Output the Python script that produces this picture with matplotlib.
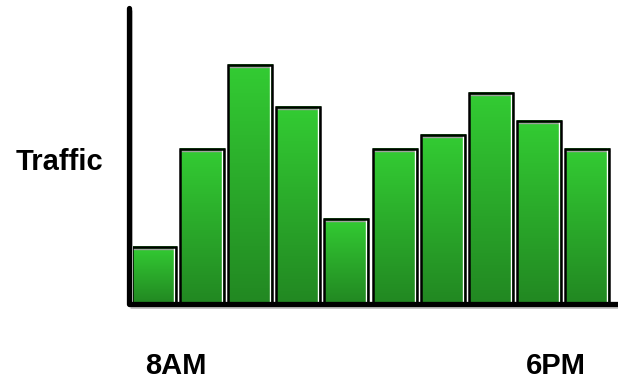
import numpy as np
import matplotlib
matplotlib.use("Agg")
import matplotlib.pyplot as plt
from matplotlib.lines import Line2D
import matplotlib.transforms as mtransforms

# Hourly traffic, 8AM through 6PM
hours = ["8AM", "9AM", "10AM", "11AM", "12PM", "1PM", "2PM", "3PM", "4PM", "5PM"]
traffic = [2.0, 5.5, 8.5, 7.0, 3.0, 5.5, 6.0, 7.5, 6.5, 5.5]
axis_label = "Traffic"
start_label = "8AM"
end_label = "6PM"

W, H, DPI = 618, 383, 100
fig = plt.figure(figsize=(W / DPI, H / DPI), dpi=DPI)
fig.patch.set_facecolor("white")

ax_left, ax_right = 128.5, 618.0
ax_top, ax_bottom = 8.0, 303.5
ax = fig.add_axes([ax_left / W, (H - ax_bottom) / H,
                   (ax_right - ax_left) / W, (ax_bottom - ax_top) / H])
ax.set_xlim(-0.53, 9.646)
ax.set_ylim(0, 10.55)
ax.axis("off")

top_col = np.array([0x33, 0xCC, 0x33]) / 255.0
bot_col = np.array([0x22, 0x88, 0x22]) / 255.0
t = np.linspace(0, 1, 128)[:, None]
grad = (top_col[None, :] * (1 - t) + bot_col[None, :] * t)[:, None, :]

bar_w = 0.915
for i, v in enumerate(traffic):
    x0, x1 = i - bar_w / 2, i + bar_w / 2
    ax.imshow(grad, extent=[x0, x1, 0, v], aspect="auto",
              interpolation="bilinear", zorder=2)
    # bevel highlights: grey under the top edge, white inside the right edge
    off_y = ax.transData + mtransforms.ScaledTranslation(0, -2.0 / DPI, fig.dpi_scale_trans)
    ax.add_line(Line2D([x0, x1], [v, v], color="#a0a0a0", lw=1.0,
                       transform=off_y, zorder=3))
    off_x = ax.transData + mtransforms.ScaledTranslation(-2.0 / DPI, 0, fig.dpi_scale_trans)
    ax.add_line(Line2D([x1, x1], [0, v], color="white", lw=1.0,
                       transform=off_x, zorder=3))
    ax.add_patch(plt.Rectangle((x0, 0), bar_w, v, fill=False,
                               edgecolor="black", lw=1.8, zorder=4))

ax.set_xlim(-0.53, 9.646)
ax.set_ylim(0, 10.55)

# axis lines with a faint shadow
shadow = ax.transAxes + mtransforms.ScaledTranslation(1.0 / DPI, -2.0 / DPI, fig.dpi_scale_trans)
ax.add_line(Line2D([0, 1], [0, 0], color="#c8c8c8", lw=3.6, transform=shadow,
                   clip_on=False, zorder=5, solid_capstyle="butt"))
ax.add_line(Line2D([0, 0], [0, 1], color="#c8c8c8", lw=3.6, transform=shadow,
                   clip_on=False, zorder=5, solid_capstyle="butt"))
ax.add_line(Line2D([0, 1], [0, 0], color="black", lw=3.8, transform=ax.transAxes,
                   clip_on=False, zorder=6, solid_capstyle="butt"))
ax.add_line(Line2D([0, 0], [0, 1], color="black", lw=3.8, transform=ax.transAxes,
                   clip_on=False, zorder=6, solid_capstyle="round"))

font = dict(family=["Liberation Sans", "DejaVu Sans"], weight="bold",
            fontsize=21, color="black")
fig.text(59.5 / W, 1 - 161.5 / H, axis_label, ha="center", va="center", **font)
fig.text(175.5 / W, 1 - 366.5 / H, start_label, ha="center", va="center", **font)
fig.text(555.5 / W, 1 - 366.5 / H, end_label, ha="center", va="center", **font)

fig.savefig("out.png", dpi=DPI, facecolor="white")
